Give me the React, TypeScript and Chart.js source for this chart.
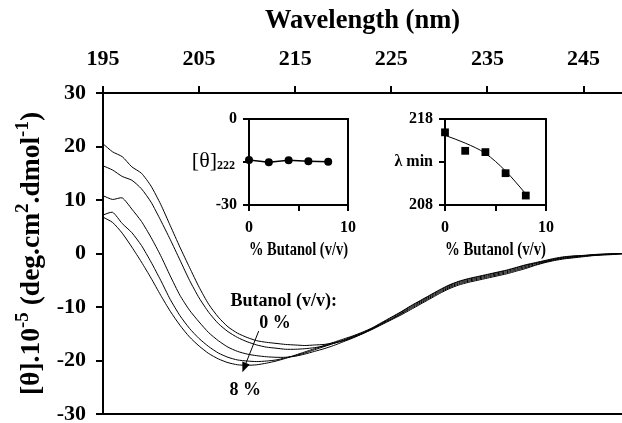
import React, { useEffect, useRef } from "react";
import { Chart, registerables } from "chart.js";

Chart.register(...registerables);

const FONT = "'Liberation Serif', 'Times New Roman', serif";

// ---------- main CD spectra ----------
const wavelengths = [
  195, 196, 197, 198, 199, 200, 201, 202, 203, 204, 205, 206, 207, 208, 209, 210, 211, 212, 213, 214,
  215, 216, 217, 218, 219, 220, 221, 222, 223, 224, 225, 226, 227, 228, 229, 230, 231, 232, 233, 234,
  235, 236, 237, 238, 239, 240, 241, 242, 243, 244, 245, 246, 247, 248, 249,
];

const butanol0 = [
  20.5, 19.0, 18.1, 16.2, 15.0, 12.6, 9.2, 5.2, 1.2, -2.6, -6.3, -9.5, -11.9, -13.7, -14.9, -15.7, -16.3, -16.6, -16.8, -17.0,
  -17.1, -17.2, -17.1, -17.0, -16.7, -16.3, -15.7, -15.0, -14.2, -13.3, -12.4, -11.5, -10.5, -9.5, -8.5, -7.5, -6.6, -5.9, -5.4, -5.0,
  -4.6, -4.2, -3.8, -3.3, -2.8, -2.2, -1.7, -1.3, -1.0, -0.8, -0.6, -0.4, -0.3, -0.2, -0.1,
];
const butanol2 = [
  16.4, 15.6, 14.4, 13.7, 12.1, 9.6, 6.2, 2.6, -1.2, -5.0, -8.3, -11.0, -13.1, -14.6, -15.7, -16.5, -17.1, -17.5, -17.7, -17.9,
  -17.9, -17.8, -17.6, -17.3, -16.8, -16.3, -15.6, -14.9, -14.1, -13.2, -12.3, -11.3, -10.3, -9.3, -8.3, -7.3, -6.4, -5.7, -5.2, -4.8,
  -4.4, -4.0, -3.6, -3.1, -2.6, -2.1, -1.6, -1.2, -0.9, -0.7, -0.5, -0.35, -0.2, -0.1, 0,
];
const butanol4 = [
  10.8, 10.1, 10.4, 8.3, 6.0, 3.0, -0.4, -4.2, -7.8, -10.6, -12.8, -14.8, -16.3, -17.5, -18.3, -18.8, -19.1, -19.3, -19.4, -19.4,
  -19.2, -18.8, -18.3, -17.8, -17.2, -16.5, -15.8, -15.0, -14.1, -13.1, -12.2, -11.2, -10.1, -9.1, -8.1, -7.1, -6.2, -5.5, -5.0, -4.6,
  -4.2, -3.8, -3.4, -2.9, -2.4, -1.9, -1.5, -1.1, -0.8, -0.6, -0.45, -0.3, -0.2, -0.1, 0,
];
const butanol6 = [
  7.2, 7.7, 5.6, 3.9, 1.5, -1.6, -5.0, -8.6, -11.6, -14.0, -15.9, -17.4, -18.6, -19.4, -19.9, -20.1, -20.2, -20.1, -19.9, -19.5,
  -19.1, -18.6, -18.0, -17.4, -16.8, -16.2, -15.5, -14.8, -14.0, -13.0, -12.0, -11.0, -9.9, -8.9, -7.9, -6.9, -6.0, -5.3, -4.8, -4.4,
  -4.0, -3.6, -3.2, -2.7, -2.2, -1.8, -1.4, -1.0, -0.7, -0.5, -0.4, -0.25, -0.15, -0.05, 0,
];
const butanol8 = [
  6.8, 5.8, 3.8, 1.2, -1.6, -4.6, -7.8, -10.8, -13.4, -15.6, -17.3, -18.7, -19.7, -20.4, -20.8, -20.9, -20.8, -20.5, -20.1, -19.6,
  -19.0, -18.4, -17.8, -17.2, -16.6, -16.0, -15.4, -14.7, -13.9, -12.9, -11.9, -10.9, -9.8, -8.8, -7.8, -6.8, -5.9, -5.2, -4.7, -4.3,
  -3.9, -3.5, -3.1, -2.6, -2.1, -1.7, -1.3, -0.9, -0.6, -0.45, -0.35, -0.2, -0.1, -0.05, 0,
];
const seriesNames = ["0 %", "2 %", "4 %", "6 %", "8 %"];
const seriesValues = [butanol0, butanol2, butanol4, butanol6, butanol8];

const xTickValues = [195, 205, 215, 225, 235, 245];
const yTickValues = [-30, -20, -10, 0, 10, 20, 30];

// ---------- insets ----------
const insetButanol = [0, 2, 4, 6, 8];
const theta222 = [-14.3, -15.1, -14.4, -14.7, -14.9];
const lambdaMin = [216.45, 214.3, 214.15, 211.7, 209.1];
const lambdaFit = [216.1, 215.2, 214.0, 211.95, 209.3];
const insetXTicks = [0, 5, 10];
const thetaTicks = [-30, -15, 0];
const lambdaTicks = [208, 213, 218];

type Part = { t: string; sup?: boolean };
const yTitleParts: Part[] = [
  { t: "[θ].10" },
  { t: "-5", sup: true },
  { t: " (deg.cm" },
  { t: "2", sup: true },
  { t: ".dmol" },
  { t: "-1", sup: true },
  { t: ")" },
];

function drawRich(ctx: CanvasRenderingContext2D, parts: Part[], size: number) {
  const big = `bold ${size}px ${FONT}`;
  const small = `bold ${Math.round(size * 0.68)}px ${FONT}`;
  let total = 0;
  const widths = parts.map((p) => {
    ctx.font = p.sup ? small : big;
    const w = ctx.measureText(p.t).width;
    total += w;
    return w;
  });
  let x = -total / 2;
  ctx.fillStyle = "#000";
  ctx.textBaseline = "alphabetic";
  ctx.textAlign = "left";
  parts.forEach((p, i) => {
    ctx.font = p.sup ? small : big;
    ctx.fillText(p.t, x, p.sup ? size * 0.33 - size * 0.42 : size * 0.33);
    x += widths[i];
  });
}

const mainDecor = {
  id: "mainDecor",
  afterDraw(chart: any) {
    const { ctx, chartArea, scales } = chart;
    const sx = scales.x;
    const sy = scales.y;
    ctx.save();
    ctx.translate(30, (chartArea.top + chartArea.bottom) / 2);
    ctx.rotate(-Math.PI / 2);
    drawRich(ctx, yTitleParts, 27.5);
    ctx.restore();

    ctx.save();
    ctx.fillStyle = "#000";
    ctx.strokeStyle = "#000";
    ctx.textAlign = "center";
    ctx.textBaseline = "middle";
    ctx.font = `bold 18px ${FONT}`;
    ctx.fillText("Butanol (v/v):", sx.getPixelForValue(213.8), sy.getPixelForValue(-8.9));
    ctx.fillText(seriesNames[0], sx.getPixelForValue(212.9), sy.getPixelForValue(-13.0));
    ctx.fillText(seriesNames[4], sx.getPixelForValue(209.8), sy.getPixelForValue(-25.5));
    const x1 = sx.getPixelForValue(211.2);
    const y1 = sy.getPixelForValue(-14.5);
    const x2 = sx.getPixelForValue(209.5);
    const y2 = sy.getPixelForValue(-22.2);
    const ang = Math.atan2(y2 - y1, x2 - x1);
    const hl = 10;
    const hw = 4;
    const bx = x2 - hl * Math.cos(ang);
    const by = y2 - hl * Math.sin(ang);
    ctx.lineWidth = 1;
    ctx.beginPath();
    ctx.moveTo(x1, y1);
    ctx.lineTo(bx, by);
    ctx.stroke();
    ctx.beginPath();
    ctx.moveTo(x2, y2);
    ctx.lineTo(bx + hw * Math.sin(ang), by - hw * Math.cos(ang));
    ctx.lineTo(bx - hw * Math.sin(ang), by + hw * Math.cos(ang));
    ctx.closePath();
    ctx.fill();
    ctx.restore();
  },
};

const thetaLabel = {
  id: "thetaLabel",
  afterDraw(chart: any) {
    const { ctx, scales } = chart;
    const y = scales.y.getPixelForValue(-15);
    const right = scales.y.right - 14;
    ctx.save();
    ctx.fillStyle = "#000";
    ctx.textAlign = "left";
    ctx.textBaseline = "alphabetic";
    const f1 = `22px ${FONT}`;
    const f2 = `bold 12px ${FONT}`;
    ctx.font = f2;
    const w2 = ctx.measureText("222").width;
    ctx.font = f1;
    const w1 = ctx.measureText("[θ]").width;
    ctx.fillText("[θ]", right - w2 - w1, y + 5);
    ctx.font = f2;
    ctx.fillText("222", right - w2, y + 7);
    ctx.restore();
  },
};

const black = "#000";

function tickFont(size: number) {
  return { family: FONT, size, weight: "bold" as const };
}

function fixSize(dim: "width" | "height", value: number) {
  return (s: any) => {
    s[dim] = value;
    s.paddingTop = 0;
    s.paddingBottom = 0;
    s.paddingLeft = 0;
    s.paddingRight = 0;
  };
}

function insetOptions(yMin: number, yMax: number, yTicks: number[], yLabel: (v: number) => string, yWidth: number, rightPad: number) {
  return {
    responsive: false,
    animation: false as const,
    events: [] as any[],
    layout: { padding: { top: 14, right: rightPad, left: 0, bottom: 0 } },
    plugins: { legend: { display: false }, tooltip: { enabled: false } },
    scales: {
      x: {
        type: "linear" as const,
        position: "bottom" as const,
        min: 0,
        max: 10,
        afterBuildTicks: (s: any) => {
          s.ticks = insetXTicks.map((v) => ({ value: v }));
        },
        afterFit: fixSize("height", 60),
        ticks: {
          font: tickFont(16),
          color: black,
          padding: 7,
          autoSkip: false,
          maxRotation: 0,
          callback: (v: any) => (v === 5 ? "" : String(v)),
        },
        grid: { display: true, drawOnChartArea: false, drawTicks: true, tickLength: 6, color: black, lineWidth: 2 },
        border: { display: true, color: black, width: 2 },
        title: {
          display: true,
          text: "% Butanol (v/v)",
          font: tickFont(19.5),
          color: black,
          padding: { top: 0, bottom: 3 },
        },
      },
      xt: {
        type: "linear" as const,
        position: "top" as const,
        min: 0,
        max: 10,
        ticks: { display: false },
        grid: { display: false },
        border: { display: true, color: black, width: 2 },
        afterFit: fixSize("height", 0),
      },
      y: {
        type: "linear" as const,
        position: "left" as const,
        min: yMin,
        max: yMax,
        afterBuildTicks: (s: any) => {
          s.ticks = yTicks.map((v) => ({ value: v }));
        },
        afterFit: fixSize("width", yWidth),
        ticks: {
          font: tickFont(16),
          color: black,
          padding: 6,
          autoSkip: false,
          callback: (v: any) => yLabel(v),
        },
        grid: { display: true, drawOnChartArea: false, drawTicks: true, tickLength: 6, color: black, lineWidth: 2 },
        border: { display: true, color: black, width: 2 },
      },
      yr: {
        type: "linear" as const,
        position: "right" as const,
        min: yMin,
        max: yMax,
        ticks: { display: false },
        grid: { display: false },
        border: { display: true, color: black, width: 2 },
        afterFit: fixSize("width", 0),
      },
    },
  };
}

export default function App() {
  const mainRef = useRef<HTMLCanvasElement>(null);
  const leftRef = useRef<HTMLCanvasElement>(null);
  const rightRef = useRef<HTMLCanvasElement>(null);

  useEffect(() => {
    Chart.defaults.font.family = FONT;
    Chart.defaults.color = black;

    const main = new Chart(mainRef.current as HTMLCanvasElement, {
      type: "line",
      data: {
        datasets: seriesValues.map((vals, i) => ({
          label: seriesNames[i],
          data: wavelengths.map((w, j) => ({ x: w, y: vals[j] })),
          borderColor: black,
          borderWidth: 1,
          pointRadius: 0,
          tension: 0.2,
          fill: false,
        })),
      },
      options: {
        responsive: false,
        animation: false,
        events: [],
        layout: { padding: 0 },
        plugins: { legend: { display: false }, tooltip: { enabled: false } },
        scales: {
          x: {
            type: "linear",
            position: "top",
            min: 195,
            max: 249,
            afterBuildTicks: (s: any) => {
              s.ticks = xTickValues.map((v) => ({ value: v }));
            },
            afterFit: fixSize("height", 93),
            ticks: { font: tickFont(22), color: black, padding: 13, autoSkip: false, maxRotation: 0 },
            grid: { display: true, drawOnChartArea: false, drawTicks: true, tickLength: 7, color: black, lineWidth: 2 },
            border: { display: true, color: black, width: 2 },
            title: {
              display: true,
              text: "Wavelength (nm)",
              font: tickFont(26.5),
              color: black,
              padding: { top: 5, bottom: 0 },
            },
          },
          xb: {
            type: "linear",
            position: "bottom",
            min: 195,
            max: 249,
            ticks: { display: false },
            grid: { display: false },
            border: { display: true, color: black, width: 2 },
            afterFit: fixSize("height", 9),
          },
          y: {
            type: "linear",
            position: "left",
            min: -30,
            max: 30,
            afterBuildTicks: (s: any) => {
              s.ticks = yTickValues.map((v) => ({ value: v }));
            },
            afterFit: fixSize("width", 103),
            ticks: { font: tickFont(22), color: black, padding: 10, autoSkip: false },
            grid: { display: true, drawOnChartArea: false, drawTicks: true, tickLength: 7, color: black, lineWidth: 2 },
            border: { display: true, color: black, width: 2 },
          },
        },
      } as any,
      plugins: [mainDecor],
    });

    const left = new Chart(leftRef.current as HTMLCanvasElement, {
      type: "line",
      data: {
        datasets: [
          {
            label: "[θ]222",
            data: insetButanol.map((b, i) => ({ x: b, y: theta222[i] })),
            borderColor: black,
            borderWidth: 1.5,
            pointRadius: 4,
            pointStyle: "circle",
            pointBackgroundColor: black,
            pointBorderColor: black,
            pointBorderWidth: 0,
            tension: 0,
            clip: false,
          } as any,
        ],
      },
      options: insetOptions(-30, 0, thetaTicks, (v) => (v === -15 ? "" : String(v)), 64, 12) as any,
      plugins: [thetaLabel],
    });

    const right = new Chart(rightRef.current as HTMLCanvasElement, {
      type: "line",
      data: {
        datasets: [
          {
            label: "fit",
            data: insetButanol.map((b, i) => ({ x: b, y: lambdaFit[i] })),
            borderColor: black,
            borderWidth: 1,
            pointRadius: 0,
            cubicInterpolationMode: "monotone",
            clip: false,
          } as any,
          {
            label: "λ min",
            data: insetButanol.map((b, i) => ({ x: b, y: lambdaMin[i] })),
            showLine: false,
            pointRadius: 5.5,
            pointStyle: "rect",
            pointBackgroundColor: black,
            pointBorderColor: black,
            pointBorderWidth: 0,
            clip: false,
          } as any,
        ],
      },
      options: insetOptions(208, 218, lambdaTicks, (v) => (v === 213 ? "λ min" : String(v)), 65, 14) as any,
    });

    return () => {
      main.destroy();
      left.destroy();
      right.destroy();
    };
  }, []);

  return (
    <div style={{ position: "absolute", left: 0, top: 0, width: 622, height: 423, background: "#fff" }}>
      <canvas ref={mainRef} width={622} height={423} style={{ position: "absolute", left: 0, top: 0, width: 622, height: 423 }} />
      <canvas ref={leftRef} width={175} height={160} style={{ position: "absolute", left: 185, top: 105, width: 175, height: 160 }} />
      <canvas ref={rightRef} width={180} height={160} style={{ position: "absolute", left: 380, top: 105, width: 180, height: 160 }} />
    </div>
  );
}
